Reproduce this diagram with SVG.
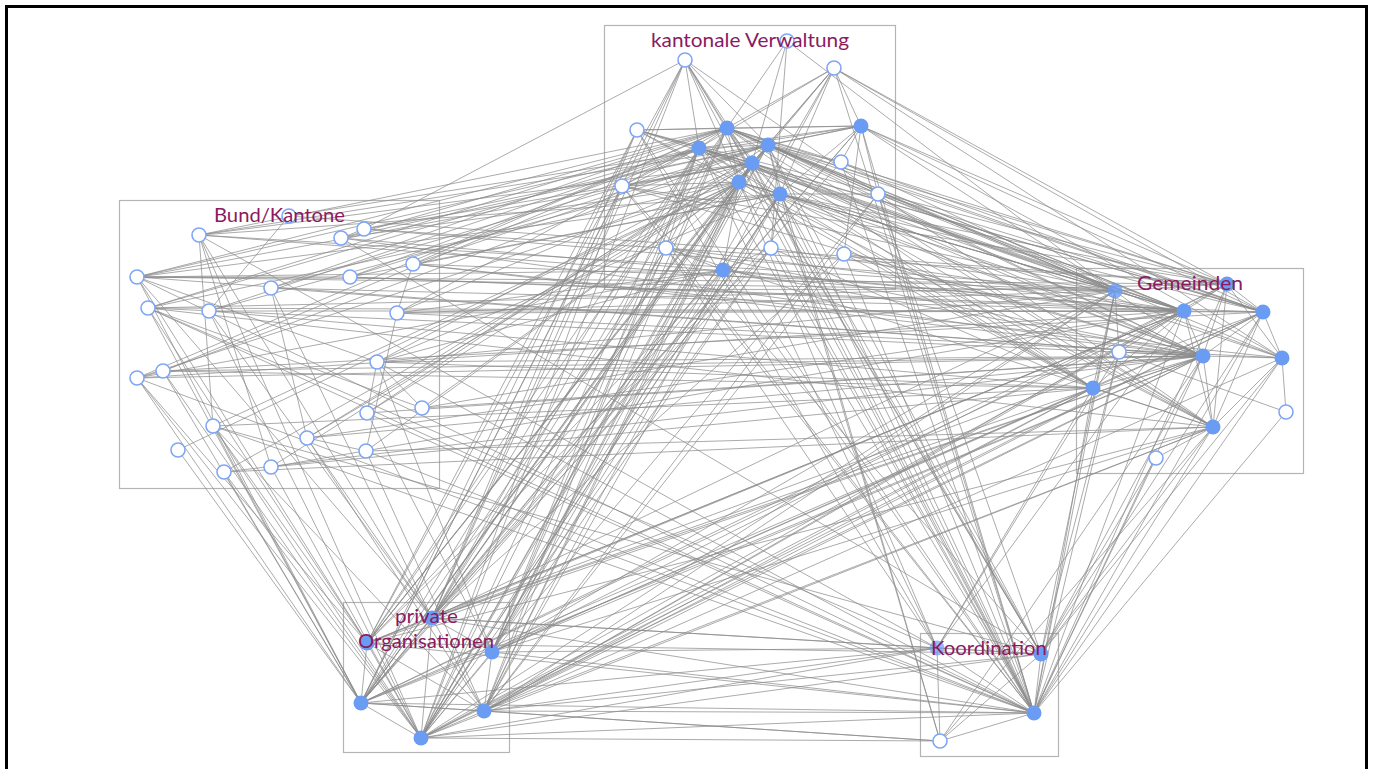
<svg xmlns="http://www.w3.org/2000/svg" width="1383" height="769" viewBox="0 0 1383 769">
<style>
.box{fill:none;stroke:#b4b4b4;stroke-width:1.2}
.e{fill:none;stroke:#8a8a8a;stroke-width:1;stroke-opacity:0.72}
.o{fill:#fff;stroke:#7ea6f6;stroke-width:1.6}
.f{fill:#6a9cf4}
.lbl{font-family:Lato,"Open Sans","Liberation Sans",sans-serif;font-size:19px;fill:#8b1a5f}
</style>
<rect width="1383" height="769" fill="#fff"/>
<path d="M6.5 780V6.5H1366.5V780" fill="none" stroke="#000" stroke-width="3"/>
<g id="boxes">
<rect class="box" x="604.5" y="25.5" width="291" height="264"/>
<rect class="box" x="119.5" y="200.5" width="320" height="288"/>
<rect class="box" x="1076.5" y="268.5" width="227" height="205"/>
<rect class="box" x="343.5" y="602.5" width="166" height="150"/>
<rect class="box" x="920.5" y="633.5" width="138" height="123"/>
</g>
<g id="connectors">
<path class="e" d="M727 128L685 60M727 128L787 41M727 128L834 68M727 128L637 130M727 128L699 148M727 128L768 145M727 128L752 163M727 128L739 182M727 128L780 194M727 128L861 126M727 128L622 186M727 128L878 194M727 128L841 162M727 128L1115 291M727 128L1227 284M727 128L1184 311M727 128L1263 312M727 128L1203 356M727 128L1093 388M727 128L1213 427M727 128L432 618M727 128L367 643M727 128L492 652M727 128L484 711M727 128L421 738M727 128L1041 654M727 128L1034 713M727 128L137 277M727 128L199 235M727 128L271 288M727 128L148 308M727 128L341 238M727 128L137 378"/>
<path class="e" d="M699 148L685 60M699 148L637 130M699 148L768 145M699 148L752 163M699 148L739 182M699 148L780 194M699 148L622 186M699 148L666 248M699 148L861 126M699 148L834 68M699 148L1115 291M699 148L1184 311M699 148L1263 312M699 148L1203 356M699 148L1282 358M699 148L1093 388M699 148L432 618M699 148L367 643M699 148L361 703M699 148L484 711M699 148L421 738M699 148L1034 713M699 148L937 648M699 148L137 277M699 148L148 308M699 148L163 371M699 148L350 277M699 148L397 313"/>
<path class="e" d="M768 145L834 68M768 145L685 60M768 145L861 126M768 145L752 163M768 145L739 182M768 145L780 194M768 145L841 162M768 145L878 194M768 145L1115 291M768 145L1227 284M768 145L1184 311M768 145L1263 312M768 145L1203 356M768 145L1282 358M768 145L1213 427M768 145L432 618M768 145L492 652M768 145L361 703M768 145L421 738M768 145L1041 654M768 145L1034 713M768 145L940 741M768 145L199 235M768 145L271 288M768 145L163 371M768 145L341 238M768 145L413 264M768 145L367 643M768 145L367 413"/>
<path class="e" d="M752 163L685 60M752 163L834 68M752 163L787 41M752 163L637 130M752 163L739 182M752 163L780 194M752 163L622 186M752 163L1115 291M752 163L1184 311M752 163L1263 312M752 163L1203 356M752 163L1093 388M752 163L1213 427M752 163L432 618M752 163L367 643M752 163L492 652M752 163L361 703M752 163L484 711M752 163L421 738M752 163L1034 713M752 163L1041 654M752 163L137 277M752 163L397 313M752 163L377 362M752 163L307 438M752 163L209 311M752 163L199 235M752 163L364 229M752 163L271 467"/>
<path class="e" d="M739 182L685 60M739 182L834 68M739 182L780 194M739 182L723 270M739 182L622 186M739 182L666 248M739 182L1115 291M739 182L1184 311M739 182L1203 356M739 182L1093 388M739 182L432 618M739 182L367 643M739 182L492 652M739 182L361 703M739 182L484 711M739 182L421 738M739 182L1034 713M739 182L937 648M739 182L137 378M739 182L213 426M739 182L224 472M739 182L148 308M739 182L422 408M739 182L367 413M739 182L366 451M739 182L341 238M739 182L307 438M739 182L178 450"/>
<path class="e" d="M780 194L834 68M780 194L861 126M780 194L878 194M780 194L771 248M780 194L1227 284M780 194L1184 311M780 194L1263 312M780 194L1203 356M780 194L1282 358M780 194L1213 427M780 194L432 618M780 194L492 652M780 194L484 711M780 194L421 738M780 194L1041 654M780 194L1034 713M780 194L940 741M780 194L137 277M780 194L350 277M780 194L413 264M780 194L377 362M780 194L361 703"/>
<path class="e" d="M861 126L834 68M861 126L841 162M861 126L878 194M861 126L637 130M861 126L1115 291M861 126L1227 284M861 126L1263 312M861 126L1282 358M861 126L361 703M861 126L432 618M861 126L1034 713M861 126L364 229M861 126L289 216M861 126L844 254"/>
<path class="e" d="M723 270L666 248M723 270L771 248M723 270L1203 356M723 270L1184 311M723 270L367 643M723 270L361 703M723 270L421 738M723 270L1034 713M723 270L137 277M723 270L137 378M723 270L377 362M723 270L397 313"/>
<path class="e" d="M787 41L1115 291M834 68L1227 284M834 68L1263 312M685 60L364 229M878 194L1184 311M844 254L1093 388M841 162L1115 291M787 41L771 248M727 128L413 264M699 148L209 311M768 145L350 277M780 194L199 235"/>
<path class="e" d="M1115 291L1227 284M1115 291L1184 311M1115 291L1119 352M1115 291L1203 356M1115 291L1093 388M1115 291L432 618M1115 291L492 652M1115 291L484 711M1115 291L421 738M1115 291L1034 713M1115 291L1041 654M1115 291L137 277M1115 291L199 235M1115 291L413 264M1115 291L377 362M1115 291L397 313M1115 291L622 186M1115 291L878 194M1115 291L844 254M1115 291L364 229M1115 291L422 408"/>
<path class="e" d="M1227 284L1184 311M1227 284L1263 312M1227 284L1203 356M1227 284L1282 358M1227 284L1213 427M1227 284L492 652M1227 284L484 711M1227 284L1034 713M1227 284L137 277M1227 284L364 229M1227 284L148 308M1227 284L637 130M1227 284L622 186M1227 284L289 216"/>
<path class="e" d="M1184 311L1263 312M1184 311L1203 356M1184 311L1093 388M1184 311L1213 427M1184 311L1119 352M1184 311L432 618M1184 311L367 643M1184 311L361 703M1184 311L484 711M1184 311L1034 713M1184 311L937 648M1184 311L341 238M1184 311L271 288M1184 311L209 311M1184 311L137 378M1184 311L637 130M1184 311L666 248M1184 311L771 248M1184 311L199 235M1184 311L350 277M1184 311L397 313M1184 311L307 438M1184 311L271 467"/>
<path class="e" d="M1263 312L1203 356M1263 312L1282 358M1263 312L1213 427M1263 312L1093 388M1263 312L492 652M1263 312L484 711M1263 312L421 738M1263 312L1034 713M1263 312L1041 654M1263 312L350 277M1263 312L163 371M1263 312L878 194M1263 312L841 162M1263 312L148 308"/>
<path class="e" d="M1203 356L1282 358M1203 356L1093 388M1203 356L1213 427M1203 356L1119 352M1203 356L432 618M1203 356L367 643M1203 356L492 652M1203 356L361 703M1203 356L484 711M1203 356L421 738M1203 356L1034 713M1203 356L1041 654M1203 356L940 741M1203 356L137 277M1203 356L148 308M1203 356L137 378M1203 356L377 362M1203 356L307 438M1203 356L422 408M1203 356L622 186M1203 356L666 248M1203 356L844 254M1203 356L341 238M1203 356L271 288M1203 356L413 264M1203 356L163 371M1203 356L367 413M1203 356L224 472"/>
<path class="e" d="M1282 358L1213 427M1282 358L1286 412M1282 358L484 711M1282 358L1034 713M1282 358L1041 654M1282 358L413 264M1282 358L397 313M1282 358L834 68"/>
<path class="e" d="M1093 388L1213 427M1093 388L432 618M1093 388L492 652M1093 388L361 703M1093 388L421 738M1093 388L1034 713M1093 388L937 648M1093 388L163 371M1093 388L213 426M1093 388L271 467M1093 388L637 130M1093 388L771 248M1093 388L209 311M1093 388L377 362"/>
<path class="e" d="M1213 427L1156 458M1213 427L367 643M1213 427L492 652M1213 427L484 711M1213 427L421 738M1213 427L1034 713M1213 427L1041 654M1213 427L940 741M1213 427L148 308M1213 427L224 472M1213 427L685 60M1213 427L637 130M1213 427L666 248M1286 412L1119 352M1213 427L366 451"/>
<path class="e" d="M432 618L367 643M432 618L492 652M432 618L361 703M432 618L484 711M432 618L421 738M432 618L1034 713M432 618L937 648M432 618L1041 654M432 618L199 235M432 618L137 277M432 618L271 288M432 618L209 311M432 618L307 438M432 618L637 130M432 618L622 186M432 618L666 248M432 618L771 248M432 618L844 254M432 618L685 60M432 618L1263 312"/>
<path class="e" d="M367 643L361 703M367 643L421 738M367 643L484 711M367 643L1034 713M367 643L1041 654M367 643L137 277M367 643L137 378M367 643L148 308M367 643L213 426M367 643L685 60M367 643L637 130M367 643L771 248M367 643L1184 311"/>
<path class="e" d="M492 652L484 711M492 652L421 738M492 652L361 703M492 652L1034 713M492 652L937 648M492 652L377 362M492 652L367 413M492 652L666 248M492 652L771 248M492 652L834 68M492 652L699 148"/>
<path class="e" d="M361 703L421 738M361 703L484 711M361 703L1034 713M361 703L937 648M361 703L940 741M361 703L137 277M361 703L137 378M361 703L148 308M361 703L163 371M361 703L213 426M361 703L224 472M361 703L178 450M361 703L685 60M361 703L637 130M361 703L622 186M361 703L666 248M361 703L841 162M361 703L1227 284"/>
<path class="e" d="M484 711L421 738M484 711L1034 713M484 711L1041 654M484 711L937 648M484 711L940 741M484 711L213 426M484 711L307 438M484 711L366 451M484 711L834 68M484 711L844 254M484 711L878 194M484 711L1093 388"/>
<path class="e" d="M421 738L1034 713M421 738L940 741M421 738L1041 654M421 738L937 648M421 738L137 378M421 738L163 371M421 738L213 426M421 738L224 472M421 738L271 467M421 738L209 311M421 738L199 235M421 738L685 60M421 738L622 186M421 738L771 248M421 738L878 194M421 738L780 194M421 738L1184 311"/>
<path class="e" d="M1034 713L937 648M1034 713L1041 654M1034 713L940 741M1034 713L137 277M1034 713L137 378M1034 713L377 362M1034 713L366 451M1034 713L367 413M1034 713L685 60M1034 713L834 68M1034 713L637 130M1034 713L622 186M1034 713L666 248M1034 713L771 248M1034 713L844 254M1034 713L841 162M1034 713L878 194M1034 713L1286 412M1034 713L1119 352M1034 713L1156 458M1034 713L213 426M1034 713L148 308"/>
<path class="e" d="M1041 654L937 648M1041 654L940 741M1041 654L213 426M1041 654L341 238M1041 654L685 60M1041 654L622 186M1041 654L878 194M1041 654L1119 352M1041 654L1156 458M937 648L940 741M937 648L199 235M937 648L148 308M937 648L637 130M937 648L666 248M937 648L1119 352"/>
<path class="e" d="M199 235L271 467M199 235L213 426M137 277L377 362M271 288L307 438M148 308L422 408M397 313L366 451M377 362L367 413M341 238L364 229M163 371L137 378M137 277L350 277M209 311L289 216M413 264L397 313M422 408L377 362M307 438L366 451"/>
</g>
<g id="nodes-kantonal">
<circle class="o" cx="685" cy="60" r="7"/>
<circle class="o" cx="787" cy="41" r="7"/>
<circle class="o" cx="834" cy="68" r="7"/>
<circle class="o" cx="637" cy="130" r="7"/>
<circle class="f" cx="727" cy="128" r="7.5"/>
<circle class="f" cx="861" cy="126" r="7.5"/>
<circle class="f" cx="699" cy="148" r="7.5"/>
<circle class="f" cx="768" cy="145" r="7.5"/>
<circle class="f" cx="752" cy="163" r="7.5"/>
<circle class="o" cx="841" cy="162" r="7"/>
<circle class="f" cx="739" cy="182" r="7.5"/>
<circle class="f" cx="780" cy="194" r="7.5"/>
<circle class="o" cx="622" cy="186" r="7"/>
<circle class="o" cx="878" cy="194" r="7"/>
<circle class="o" cx="666" cy="248" r="7"/>
<circle class="o" cx="771" cy="248" r="7"/>
<circle class="o" cx="844" cy="254" r="7"/>
<circle class="f" cx="723" cy="270" r="7.5"/>
</g>
<g id="nodes-bund">
<circle class="o" cx="289" cy="216" r="7"/>
<circle class="o" cx="199" cy="235" r="7"/>
<circle class="o" cx="341" cy="238" r="7"/>
<circle class="o" cx="364" cy="229" r="7"/>
<circle class="o" cx="137" cy="277" r="7"/>
<circle class="o" cx="350" cy="277" r="7"/>
<circle class="o" cx="271" cy="288" r="7"/>
<circle class="o" cx="413" cy="264" r="7"/>
<circle class="o" cx="148" cy="308" r="7"/>
<circle class="o" cx="209" cy="311" r="7"/>
<circle class="o" cx="397" cy="313" r="7"/>
<circle class="o" cx="137" cy="378" r="7"/>
<circle class="o" cx="163" cy="371" r="7"/>
<circle class="o" cx="377" cy="362" r="7"/>
<circle class="o" cx="213" cy="426" r="7"/>
<circle class="o" cx="307" cy="438" r="7"/>
<circle class="o" cx="367" cy="413" r="7"/>
<circle class="o" cx="422" cy="408" r="7"/>
<circle class="o" cx="178" cy="450" r="7"/>
<circle class="o" cx="224" cy="472" r="7"/>
<circle class="o" cx="271" cy="467" r="7"/>
<circle class="o" cx="366" cy="451" r="7"/>
</g>
<g id="nodes-gemeinden">
<circle class="f" cx="1115" cy="291" r="7.5" fill-opacity="0.8"/>
<circle class="f" cx="1227" cy="284" r="7.5"/>
<circle class="f" cx="1184" cy="311" r="7.5"/>
<circle class="f" cx="1263" cy="312" r="7.5"/>
<circle class="o" cx="1119" cy="352" r="7"/>
<circle class="f" cx="1203" cy="356" r="7.5"/>
<circle class="f" cx="1282" cy="358" r="7.5"/>
<circle class="f" cx="1093" cy="388" r="7.5"/>
<circle class="o" cx="1286" cy="412" r="7"/>
<circle class="f" cx="1213" cy="427" r="7.5"/>
<circle class="o" cx="1156" cy="458" r="7"/>
</g>
<g id="nodes-private">
<circle class="f" cx="432" cy="618" r="7.5"/>
<circle class="f" cx="367" cy="643" r="7.5"/>
<circle class="f" cx="492" cy="652" r="7.5"/>
<circle class="f" cx="361" cy="703" r="7.5"/>
<circle class="f" cx="484" cy="711" r="7.5"/>
<circle class="f" cx="421" cy="738" r="7.5"/>
</g>
<g id="nodes-koordination">
<circle class="f" cx="937" cy="648" r="7.5" fill-opacity="0.7"/>
<circle class="f" cx="1041" cy="654" r="7.5"/>
<circle class="f" cx="1034" cy="713" r="7.5"/>
<circle class="o" cx="940" cy="741" r="7"/>
</g>
<g id="labels">
<text class="lbl" x="651" y="47" textLength="198" lengthAdjust="spacingAndGlyphs">kantonale Verwaltung</text>
<text class="lbl" x="214" y="222" textLength="131" lengthAdjust="spacingAndGlyphs">Bund/Kantone</text>
<text class="lbl" x="1137" y="290" textLength="106" lengthAdjust="spacingAndGlyphs">Gemeinden</text>
<text class="lbl" x="395" y="623" textLength="63" lengthAdjust="spacingAndGlyphs">private</text>
<text class="lbl" x="358" y="648" textLength="136" lengthAdjust="spacingAndGlyphs">Organisationen</text>
<text class="lbl" x="931" y="655" textLength="116" lengthAdjust="spacingAndGlyphs">Koordination</text>
</g>
</svg>
